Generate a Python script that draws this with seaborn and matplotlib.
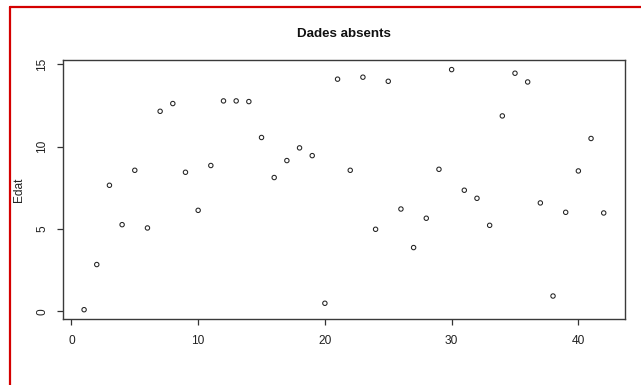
import matplotlib
matplotlib.use("Agg")
import matplotlib.pyplot as plt
from matplotlib.lines import Line2D
import seaborn as sns
import pandas as pd

# Age values ("Edat") by record index
index = list(range(1, 43))
edat = [0.10, 2.84, 7.65, 5.26, 8.56, 5.06, 12.14, 12.61, 8.44, 6.13,
        8.85, 12.77, 12.77, 12.73, 10.55, 8.12, 9.15, 9.92, 9.45, 0.49,
        14.09, 8.56, 14.21, 4.98, 13.96, 6.21, 3.87, 5.65, 8.62, 14.67,
        7.35, 6.86, 5.22, 11.86, 14.45, 13.92, 6.58, 0.93, 6.01, 8.52,
        10.49, 5.97]
x_ticks = [0, 10, 20, 30, 40]
y_ticks = [0, 5, 10, 15]
title = "Dades absents"
ylabel = "Edat"

df = pd.DataFrame({"Index": index, "Edat": edat})

sns.set_style("white")
plt.rcParams["font.family"] = ["Liberation Sans", "DejaVu Sans"]

W, H = 641, 385
fig = plt.figure(figsize=(W / 100, H / 100), dpi=100)
ax = fig.add_axes([63.3 / W, 1 - 319.3 / H, (624.5 - 63.3) / W, (319.3 - 60) / H])

sns.scatterplot(data=df, x="Index", y="Edat", ax=ax, marker="o", s=10,
                facecolor="none", edgecolor="#222222", linewidth=0.75)

# R-style 4% padding around the data range
xr = max(index) - min(index)
yr = max(edat) - min(edat)
ax.set_xlim(min(index) - 0.04 * xr, max(index) + 0.04 * xr)
ax.set_ylim(min(edat) - 0.04 * yr, max(edat) + 0.04 * yr)

ax.set_xticks(x_ticks)
ax.set_yticks(y_ticks)
ax.set_xticklabels([str(t) for t in x_ticks])
ax.set_yticklabels([str(t) for t in y_ticks], rotation=90, va="center")
ax.tick_params(axis="both", direction="out", length=4.3, width=0.9,
               color="#333333", labelsize=8.6, labelcolor="#222222",
               bottom=True, left=True)
ax.tick_params(axis="x", pad=7)
ax.tick_params(axis="y", pad=6.5)

for sp in ax.spines.values():
    sp.set_visible(True)
    sp.set_color("#3a3a3a")
    sp.set_linewidth(1.0)

ax.set_xlabel("")
ax.set_ylabel("")
fig.text(19 / W, 1 - 190 / H, ylabel, rotation=90, ha="center", va="center",
         fontsize=8.6, color="#222222")
fig.text(344 / W, 1 - 34 / H, title, ha="center", va="center",
         fontsize=9.6, fontweight="bold", color="#111111")

# red frame on the left and top edges
red = "#d40000"
fig.add_artist(Line2D([10 / W, 10 / W], [0, 1 - 7 / H], color=red, lw=1.6,
                      transform=fig.transFigure))
fig.add_artist(Line2D([10 / W, 1], [1 - 7 / H, 1 - 7 / H], color=red, lw=1.6,
                      transform=fig.transFigure))

fig.savefig("out.png", dpi=100, facecolor="white")
